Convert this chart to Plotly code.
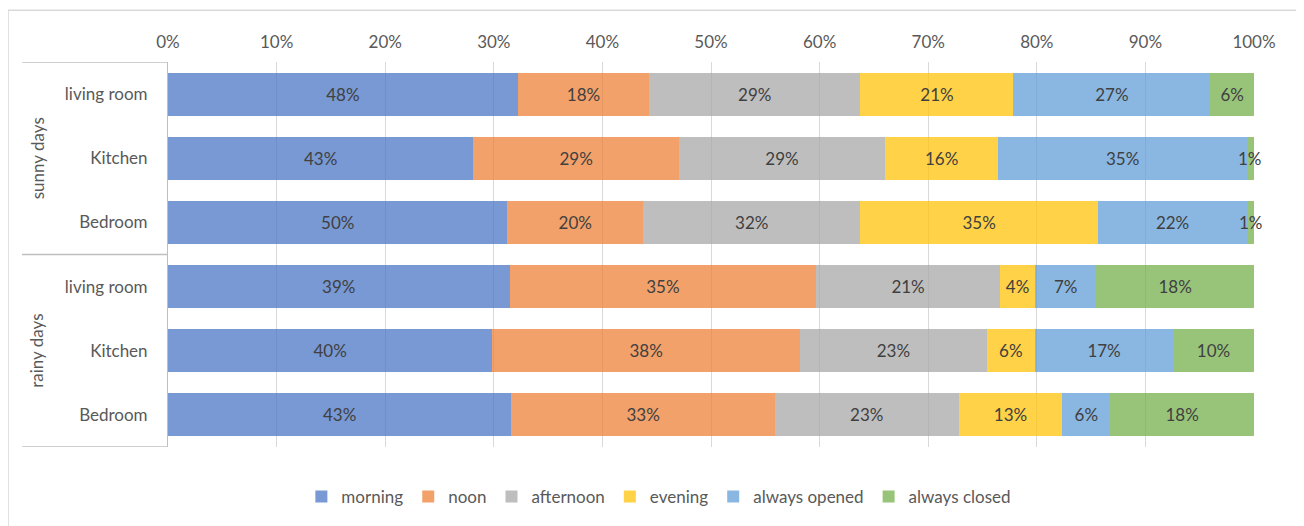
import plotly.graph_objects as go

rooms = ["living room", "Kitchen", "Bedroom", "living room", "Kitchen", "Bedroom"]
groups = ["sunny days", "rainy days"]
series_names = ["morning", "noon", "afternoon", "evening", "always opened", "always closed"]
morning = [48, 43, 50, 39, 40, 43]
noon = [18, 29, 20, 35, 38, 33]
afternoon = [29, 29, 32, 21, 23, 23]
evening = [21, 16, 35, 4, 6, 13]
always_opened = [27, 35, 22, 7, 17, 6]
always_closed = [6, 1, 1, 18, 10, 18]
x_ticks = [0, 10, 20, 30, 40, 50, 60, 70, 80, 90, 100]

colors = ["rgba(68,114,196,0.72)", "rgba(237,125,49,0.72)", "rgba(165,165,165,0.72)",
          "rgba(255,192,0,0.72)", "rgba(91,155,213,0.72)", "rgba(112,173,71,0.72)"]
FONT = "Lato"
FS = 17
THIN = 2.5  # segments (in % of row) too thin for inside text

all_series = [morning, noon, afternoon, evening, always_opened, always_closed]
positions = list(range(len(rooms)))
totals = [sum(s[i] for s in all_series) for i in positions]

fig = go.Figure()
for name, vals, col in zip(series_names, all_series, colors):
    texts = ["" if v / totals[i] * 100 < THIN else f"{v}%" for i, v in enumerate(vals)]
    fig.add_trace(go.Bar(
        y=positions, x=vals, name=name, orientation="h",
        marker=dict(color=col, line=dict(width=0)),
        text=texts, textposition="inside", textangle=0,
        insidetextanchor="middle", constraintext="none",
        textfont=dict(family=FONT, size=FS, color="#404040"),
        hoverinfo="skip",
    ))

# labels of thin segments overflow the bar like in Excel: place as annotations
for i in positions:
    cum = 0.0
    for vals in all_series:
        share = vals[i] / totals[i] * 100
        if share < THIN:
            fig.add_annotation(x=cum + share / 2, y=i, xref="x", yref="y",
                               text=f"{vals[i]}%", showarrow=False,
                               font=dict(family=FONT, size=FS, color="#404040"))
        cum += share

fig.update_layout(
    barmode="stack", barnorm="percent", bargap=0.33,
    width=1296, height=518,
    margin=dict(l=160, r=50, t=54, b=78),
    paper_bgcolor="white", plot_bgcolor="white",
    font=dict(family=FONT, size=FS, color="#595959"),
    legend=dict(orientation="h", x=0.452, xanchor="center", y=-0.127, yanchor="middle",
                font=dict(family=FONT, size=FS, color="#595959"), traceorder="normal",
                itemclick=False, itemwidth=30),
    showlegend=True,
)
fig.update_xaxes(side="top", range=[0, 100], tickvals=x_ticks,
                 ticktext=[f"{t}%" for t in x_ticks],
                 showgrid=True, gridcolor="#d9d9d9", gridwidth=1,
                 zeroline=False, showline=False, ticks="", ticklabelstandoff=10,
                 tickfont=dict(family=FONT, size=FS, color="#595959"), fixedrange=True)
fig.update_yaxes(tickvals=positions, ticktext=rooms, range=[5.5, -0.5],
                 showgrid=False, zeroline=False, showline=True, linecolor="#bfbfbf",
                 ticks="", ticklabelstandoff=16,
                 tickfont=dict(family=FONT, size=FS, color="#595959"), fixedrange=True)

# multi-level category dividers
line_col = "#bfbfbf"
for yv in [-0.5, 2.5, 5.5]:
    fig.add_shape(type="line", xref="paper", yref="y", x0=-0.1344, x1=0, y0=yv, y1=yv,
                  line=dict(color=line_col, width=1.5))
for gi, g in enumerate(groups):
    fig.add_annotation(xref="paper", yref="y", x=-0.1206, y=1 + 3 * gi, text=g,
                       textangle=-90, showarrow=False, xanchor="center", yanchor="middle",
                       font=dict(family=FONT, size=FS, color="#595959"))

# chart area border
fig.add_shape(type="rect", xref="paper", yref="paper", x0=-0.1473, x1=1.0451,
              y0=-0.25, y1=1.1347, line=dict(color="#d9d9d9", width=1.5),
              fillcolor="rgba(0,0,0,0)", layer="below")

fig.write_html("out.html")
